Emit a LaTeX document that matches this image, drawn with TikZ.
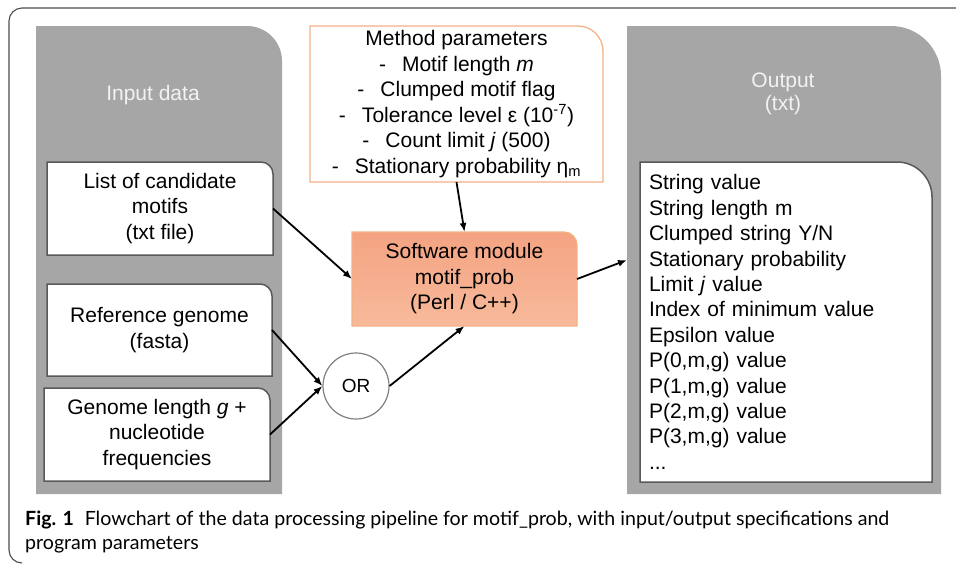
\documentclass[tikz,border=0pt]{standalone}
\usepackage{fontspec}
\setmainfont{Liberation Sans}
\newfontfamily\capfont{Lato}
\usetikzlibrary{arrows.meta,backgrounds}
\definecolor{panelgray}{HTML}{A6A6A6}
\definecolor{boxedge}{HTML}{595959}
\definecolor{orangeedge}{HTML}{F4B183}
\definecolor{swtop}{HTML}{F4A382}
\definecolor{swbot}{HTML}{F7BA9B}
\definecolor{framegray}{HTML}{4D4D4D}
\definecolor{orgray}{HTML}{808080}
\definecolor{paneltext}{HTML}{F2F2F2}
\newcommand{\trshape}[3]{\path[#3] (#1.south west) -- (#1.north west) -- ([xshift=-#2]#1.north east) arc[start angle=90,end angle=0,radius=#2] -- (#1.south east) -- cycle;}
\begin{document}
\begin{tikzpicture}[x=1pt,y=1pt,
  region/.style={draw=none,inner sep=0pt,outer sep=0pt,anchor=north west,align=center,
    font=\fontsize{21}{25.5}\selectfont},
  lbl/.style={inner sep=0pt,align=center,font=\fontsize{21}{25.5}\selectfont},
  arr/.style={line width=1.8pt,-{Latex[length=9pt,width=7pt]}},
  inbox/.style={fill=white,draw=boxedge,line width=1.5pt},
  capt/.style={anchor=base west,inner sep=0pt,font=\capfont\fontsize{19.6}{24}\selectfont}]
\useasboundingbox (0,0) rectangle (956,-563);

% outer frame
\draw[framegray,line width=1.1pt] (956,-8) -- (22,-8) arc[start angle=90,end angle=180,radius=13pt]
  -- (9,-550) arc[start angle=180,end angle=270,radius=13pt];

% regions
\node[region,minimum width=246,minimum height=468] (inp) at (36,-26) {};
\node[region,minimum width=314,minimum height=468] (outp) at (627,-26) {};
\node[region,minimum width=226,minimum height=93] (b1) at (47,-162) {List of candidate\\motifs\\(txt file)};
\node[region,minimum width=225,minimum height=92] (b2) at (47,-284) {Reference genome\\(fasta)};
\node[region,minimum width=226,minimum height=93] (b3) at (44,-388) {Genome length \textit{g} +\\nucleotide\\frequencies};
\node[region,minimum width=293,minimum height=156] (mp) at (310,-26) {Method parameters\\
  -\hspace{16pt}Motif length \textit{m}\\
  -\hspace{16pt}Clumped motif flag\\
  -\hspace{16pt}Tolerance level ε (10\textsuperscript{-7})\\
  -\hspace{16pt}Count limit \textit{j} (500)\\
  -\hspace{16pt}Stationary probability η\textsubscript{m}};
\node[region,minimum width=225,minimum height=94] (sw) at (352,-232) {Software module\\motif\_prob\\(Perl / C++)};
\node[region,minimum width=292,minimum height=320,text width=274,align=left,
  font=\fontsize{21}{25.4}\selectfont] (ob) at (640,-162) {String value\\String length m\\Clumped string Y/N\\Stationary probability\\Limit \textit{j} value\\Index of minimum value\\Epsilon value\\P(0,m,g) value\\P(1,m,g) value\\P(2,m,g) value\\P(3,m,g) value\\...};

\begin{scope}[on background layer]
  \trshape{inp}{35pt}{fill=panelgray}
  \trshape{outp}{50pt}{fill=panelgray}
  \trshape{b1}{12pt}{inbox}
  \trshape{b2}{12pt}{inbox}
  \trshape{b3}{12pt}{inbox}
  \trshape{ob}{35pt}{inbox}
  \trshape{mp}{25pt}{fill=white,draw=orangeedge,line width=1.3pt}
  \trshape{sw}{13pt}{top color=swtop,bottom color=swbot,draw=orangeedge,line width=1.3pt}
\end{scope}

\node[lbl,text=paneltext] (inlab) at (153,-95) {Input data};
\node[lbl,text=paneltext,font=\fontsize{21}{23}\selectfont] (outlab) at (783,-94) {Output\\(txt)};

\node[circle,draw=orgray,fill=white,minimum size=66pt,inner sep=0pt,line width=1.2pt,
  font=\fontsize{19}{22}\selectfont] (or) at (356,-386) {OR};

% connectors
\draw[arr] (b1.east) -- (sw.west);
\draw[arr] (mp.south) -- (sw.north);
\draw[arr] (b2.east) -- (or.west);
\draw[arr] (b3.east) -- (or.west);
\draw[arr] (or.east) -- (sw.south);
\draw[arr] (sw.east) -- (outp.west);

% caption
\node[capt] (cap1) at (25,-525) {\textbf{Fig. 1}\hspace{0.55em}Flowchart of the data processing pipeline for motif\_prob, with input/output specifications and};
\node[capt] (cap2) at (25,-549) {program parameters};
\end{tikzpicture}
\end{document}
